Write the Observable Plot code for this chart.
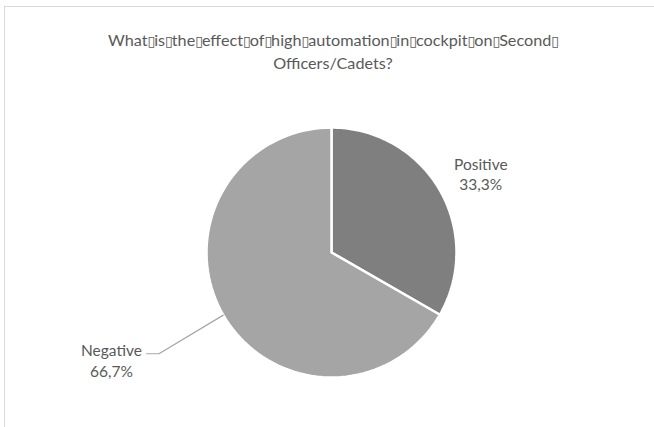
<!DOCTYPE html>
<html><head><meta charset="utf-8">
<script src="https://cdn.jsdelivr.net/npm/d3@7"></script>
<script src="https://cdn.jsdelivr.net/npm/@observablehq/plot@0.6"></script>
<style>
body{margin:0;width:654px;height:427px;overflow:hidden;background:#fff;font-family:Lato,"Open Sans",sans-serif;position:relative}
#frame{position:absolute;left:4px;top:6px;width:700px;height:460px;border:1px solid #d9d9d9;box-sizing:border-box}
#title{position:absolute;left:0;top:29px;width:666px;text-align:center;color:#595959;font-size:16.2px;line-height:21px}
#chart{position:absolute;left:0;top:0}
</style></head><body>
<div id="frame"></div>
<div id="chart"></div>
<div id="title"></div>
<script>
const categories = ["Positive", "Negative"];
const values = [33.3, 66.7];
const valueLabels = ["33,3%", "66,7%"];
const colors = ["#7f7f7f", "#a5a5a5"];
const titleLines = ["What\u25AFis\u25AFthe\u25AFeffect\u25AFof\u25AFhigh\u25AFautomation\u25AFin\u25AFcockpit\u25AFon\u25AFSecond\u25AF", "Officers/Cadets?"];

document.getElementById("title").innerHTML = titleLines.map(s => s.replace(/\u25AF/g, '<span style="font-family:\'DejaVu Sans\';font-size:14px;letter-spacing:-1px">\u25AF</span>')).join("<br>");

const cx = 331, cy = 252, r = 125;
const arcs = d3.pie().sort(null).value(d => d.value)(categories.map((c, i) => ({cat: c, value: values[i], color: colors[i], label: valueLabels[i]})));

const slicePts = [];
arcs.forEach(a => {
  slicePts.push({cat: a.data.cat, color: a.data.color, x: 0, y: 0});
  const n = 90;
  for (let k = 0; k <= n; k++) {
    const t = a.startAngle + (a.endAngle - a.startAngle) * k / n;
    slicePts.push({cat: a.data.cat, color: a.data.color, x: Math.sin(t), y: Math.cos(t)});
  }
  slicePts.push({cat: a.data.cat, color: a.data.color, x: 0, y: 0});
});

const mid = a => (a.startAngle + a.endAngle) / 2;
const labelPts = arcs.map(a => {
  const m = mid(a);
  if (a.data.cat === "Positive") {
    return {text: a.data.cat + "\n" + a.data.label, x: 1.38 * Math.sin(m), y: 1.26 * Math.cos(m)};
  } else {
    return {text: a.data.cat + "\n" + a.data.label, x: -1.76, y: -0.86};
  }
});
const negArc = arcs[1];
const nm = mid(negArc);
const leader = [
  {x: Math.sin(nm) * 1.0, y: Math.cos(nm) * 1.0},
  {x: -1.38, y: -0.81},
  {x: -1.48, y: -0.81}
];

const chart = Plot.plot({
  width: 654, height: 427,
  margin: 0,
  x: {type: "linear", domain: [-1, 1], range: [cx - r, cx + r], axis: null},
  y: {type: "linear", domain: [-1, 1], range: [cy + r, cy - r], axis: null},
  style: {background: "transparent", fontFamily: "Lato, 'Open Sans', sans-serif"},
  marks: [
    Plot.line(slicePts, {x: "x", y: "y", z: "cat", fill: d => d.color, stroke: "white", strokeWidth: 2.5, strokeLinejoin: "miter", curve: "linear"}),
    Plot.line(leader, {x: "x", y: "y", stroke: "#a6a6a6", strokeWidth: 1.2}),
    Plot.text(labelPts, {x: "x", y: "y", text: "text", textAnchor: "middle", fontSize: 15.5, fill: "#595959", lineHeight: 1.3})
  ]
});
document.getElementById("chart").appendChild(chart);
</script>
</body></html>
